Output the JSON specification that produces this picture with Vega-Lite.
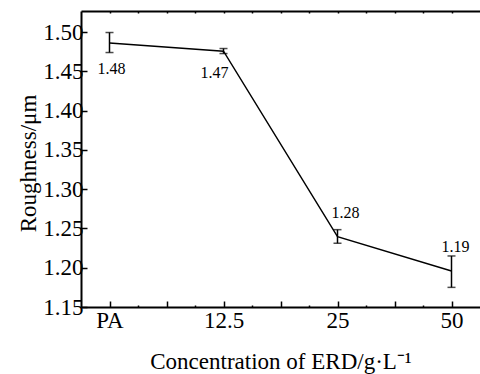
{
  "$schema": "https://vega.github.io/schema/vega-lite/v6.json",
  "width": 399,
  "height": 296,
  "autosize": "none",
  "padding": {"left": 81, "top": 11, "right": 0, "bottom": 67},
  "config": {
    "view": {"stroke": null},
    "font": "'Liberation Serif', 'Times New Roman', serif",
    "axis": {
      "labelFont": "'Liberation Serif', 'Times New Roman', serif",
      "titleFont": "'Liberation Serif', 'Times New Roman', serif",
      "labelColor": "black",
      "titleColor": "black",
      "domainColor": "black",
      "tickColor": "black",
      "domainWidth": 2,
      "tickWidth": 1.5,
      "grid": false,
      "labelFontSize": 23,
      "titleFontSize": 23,
      "titleFontWeight": "normal",
      "labelOverlap": false,
      "labelBound": false,
      "labelFlush": false
    }
  },
  "data": {
    "values": [
      {"x": 1, "y": 1.4863, "lo": 1.4741, "hi": 1.4996, "label": "1.48"},
      {"x": 2, "y": 1.4758, "lo": 1.4728, "hi": 1.4792, "label": "1.47"},
      {"x": 3, "y": 1.2396, "lo": 1.2312, "hi": 1.2485, "label": "1.28"},
      {"x": 4, "y": 1.1959, "lo": 1.1750, "hi": 1.2150, "label": "1.19"}
    ]
  },
  "layer": [
    {
      "mark": {"type": "rule", "color": "black", "strokeWidth": 1.5},
      "encoding": {
        "x": {
          "field": "x", "type": "quantitative",
          "scale": {"domain": [0.75, 4.25], "nice": false, "zero": false},
          "axis": {
            "orient": "bottom",
            "values": [1, 1.5, 2, 2.5, 3, 3.5, 4],
            "tickSize": -6,
            "labelPadding": 8,
            "labelExpr": "datum.value == 1 ? 'PA' : datum.value == 2 ? '12.5' : datum.value == 3 ? '25' : datum.value == 4 ? '50' : ''",
            "title": "Concentration of ERD/g·L⁻¹",
            "titleBaseline": "alphabetic",
            "titleY": 61
          }
        },
        "y": {
          "field": "lo", "type": "quantitative",
          "scale": {"domain": [1.15, 1.527], "nice": false, "zero": false},
          "axis": {
            "values": [1.15, 1.175, 1.2, 1.225, 1.25, 1.275, 1.3, 1.325, 1.35, 1.375, 1.4, 1.425, 1.45, 1.475, 1.5],
            "tickSize": -6,
            "labelPadding": 4,
            "labelExpr": "round(datum.value * 1000) % 50 == 0 ? format(datum.value, '.2f') : ''",
            "title": "Roughness/μm",
            "titleBaseline": "alphabetic",
            "titleX": -46,
            "titleY": 152
          }
        },
        "y2": {"field": "hi"}
      }
    },
    {
      "mark": {"type": "tick", "orient": "horizontal", "color": "black", "size": 8, "thickness": 1.5},
      "encoding": {
        "x": {
          "field": "x", "type": "quantitative",
          "scale": {"domain": [0.75, 4.25], "nice": false, "zero": false},
          "axis": {
            "orient": "bottom",
            "values": [1.25, 1.75, 2.25, 2.75, 3.25, 3.75],
            "tickSize": -2,
            "labels": false,
            "domain": false,
            "title": null
          }
        },
        "y": {
          "field": "lo", "type": "quantitative",
          "scale": {"domain": [1.15, 1.527], "nice": false, "zero": false}
        }
      }
    },
    {
      "mark": {"type": "tick", "orient": "horizontal", "color": "black", "size": 8, "thickness": 1.5},
      "encoding": {
        "x": {
          "field": "x", "type": "quantitative",
          "scale": {"domain": [0.75, 4.25], "nice": false, "zero": false},
          "axis": null
        },
        "y": {
          "field": "hi", "type": "quantitative",
          "scale": {"domain": [1.15, 1.527], "nice": false, "zero": false}
        }
      }
    },
    {
      "mark": {"type": "line", "color": "black", "strokeWidth": 1.4},
      "encoding": {
        "x": {
          "field": "x", "type": "quantitative",
          "scale": {"domain": [0.75, 4.25], "nice": false, "zero": false},
          "axis": {
            "orient": "top",
            "values": [1, 1.25, 1.5, 1.75, 2, 2.25, 2.5, 2.75, 3, 3.25, 3.5, 3.75, 4],
            "tickSize": -2,
            "labels": false,
            "title": null
          }
        },
        "y": {
          "field": "y", "type": "quantitative",
          "scale": {"domain": [1.15, 1.527], "nice": false, "zero": false}
        }
      }
    },
    {
      "mark": {
        "type": "text",
        "font": "'Liberation Serif', 'Times New Roman', serif",
        "fontSize": 16,
        "color": "black",
        "baseline": "middle",
        "align": "center",
        "dx": {"expr": "datum.x == 1 ? 2 : datum.x == 2 ? -9 : datum.x == 3 ? 8 : 4"},
        "dy": {"expr": "datum.x == 1 ? 26 : datum.x == 2 ? 22 : -24"}
      },
      "encoding": {
        "x": {
          "field": "x", "type": "quantitative",
          "scale": {"domain": [0.75, 4.25], "nice": false, "zero": false},
          "axis": null
        },
        "y": {
          "field": "y", "type": "quantitative",
          "scale": {"domain": [1.15, 1.527], "nice": false, "zero": false}
        },
        "text": {"field": "label"}
      }
    }
  ],
  "resolve": {"axis": {"x": "independent"}}
}
